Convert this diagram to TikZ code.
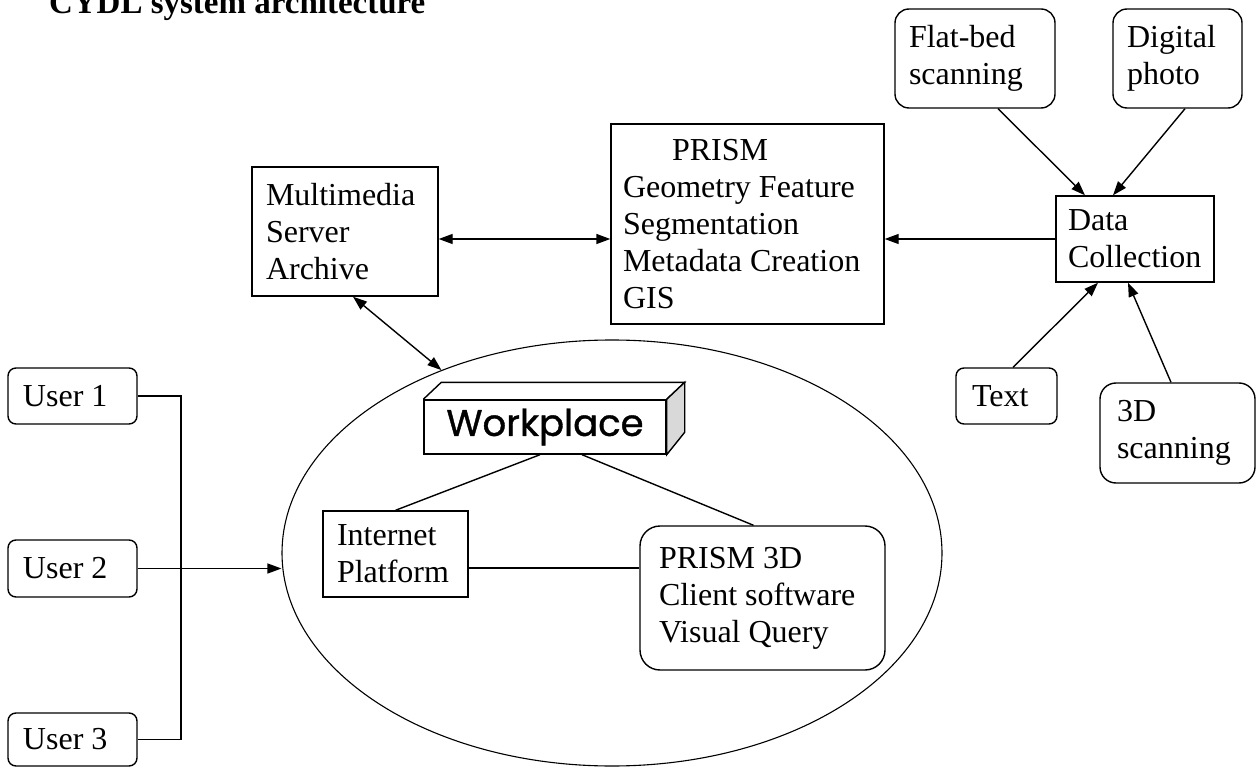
\documentclass[tikz,border=0pt]{standalone}
\usepackage{fontspec}
\setmainfont{Liberation Serif}
\newfontfamily\wpfont[FakeBold=1]{Poppins}
\usetikzlibrary{shapes.geometric,arrows.meta}
\newcommand{\diagfont}{\fontsize{32}{37}\selectfont}

\begin{document}
\begin{tikzpicture}[x=1pt,y=-1pt,line width=1.4pt,
	box/.style={draw=black,inner xsep=14pt,inner ysep=0pt,text badly ragged,font=\diagfont},
	rbox/.style={box,rounded corners=#1},
	>={Triangle[length=14pt,width=10pt]}]

	\useasboundingbox (0,0) rectangle (1256,767);

	\node[anchor=base west,font=\fontsize{33}{40}\selectfont\bfseries] (title) at (45,14) {CYDL system architecture};

	\node[shape=ellipse,draw=black,line width=1.1pt,minimum width=660pt,minimum height=426pt,inner sep=0pt] (ws) at (612,553) {};

	\node[box,text width=158pt,minimum height=129pt] (mm) at (345,231.5) {Multimedia\\Server\\Archive};
	\node[box,inner xsep=12pt,text width=249pt,minimum height=200pt] (prism) at (747.5,224) {\hspace*{49pt}PRISM\\Geometry Feature\\Segmentation\\Metadata Creation\\GIS};
	\node[box,inner xsep=12pt,text width=134pt,minimum height=86pt] (dc) at (1135,239) {Data\\Collection};

	\node[rbox=14pt,text width=132pt,minimum height=99pt] (flat) at (975,58.5) {Flat-bed\\scanning};
	\node[rbox=14pt,text width=101pt,minimum height=99pt] (photo) at (1177.5,58.5) {Digital\\photo};
	\node[rbox=8pt,inner xsep=16pt,text width=69pt,minimum height=56pt] (txt) at (1006.5,396) {Text};
	\node[rbox=16pt,inner xsep=17pt,text width=121pt,minimum height=100pt] (scan) at (1177.5,433) {3D\\scanning};

	\node[rbox=8pt,inner xsep=15pt,text width=99pt,minimum height=56pt] (u1) at (72.5,396) {User 1};
	\node[rbox=8pt,inner xsep=15pt,text width=99pt,minimum height=57pt] (u2) at (72.5,568.5) {User 2};
	\node[rbox=8pt,inner xsep=15pt,text width=99pt,minimum height=53pt] (u3) at (72.5,739.5) {User 3};

	\node[draw=black,minimum width=242pt,minimum height=54pt,inner sep=0pt,font=\wpfont\fontsize{37}{40}\selectfont] (wp) at (545,427) {Workplace};
	\draw (wp.north west) -- ++(18,-17) -- ([shift={(18,-17)}]wp.north east) -- (wp.north east);
	\filldraw[fill=gray!30] (wp.north east) -- ++(18,-17) -- ++(0,50) -- (wp.south east) -- cycle;

	\node[box,text width=117pt,minimum height=86pt] (inet) at (395.5,554) {Internet\\Platform};
	\node[rbox=20pt,inner xsep=19pt,text width=207pt,minimum height=144pt] (client) at (762.5,598) {PRISM 3D\\Client software\\Visual Query};

	% data flow
	\draw[<->] (mm.east |- dc.west) -- (prism.west |- dc.west);
	\draw[->] (dc.west) -- (prism.east |- dc.west);
	\draw[<->] ([xshift=8pt]mm.south) -- (ws.133);

	\draw[->] ([xshift=23pt]flat.south) -- ([xshift=-50pt]dc.north);
	\draw[->] ([xshift=7.5pt]photo.south) -- ([xshift=-22pt]dc.north);
	\draw[->] ([xshift=6.5pt]txt.north) -- ([xshift=-37pt]dc.south);
	\draw[->] ([xshift=-6.5pt]scan.north) -- ([xshift=-7pt]dc.south);

	% users
	\coordinate (bus) at (181,569);
	\draw (u1.east) -| (bus) |- (u3.east);
	\draw[->] (u2.east) -- (u2.east -| ws.west);

	% workplace
	\draw ([xshift=-5pt]wp.south) -- (inet.north);
	\draw ([xshift=37pt]wp.south) -- ([xshift=-9pt]client.north);
	\draw ([yshift=-14pt]inet.east) coordinate (il) -- (client.west |- il);

\end{tikzpicture}
\end{document}
